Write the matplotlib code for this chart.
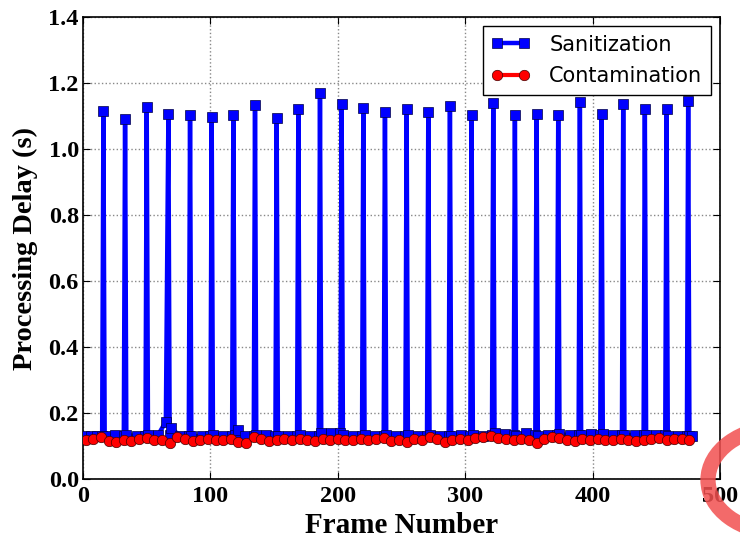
import numpy as np
import matplotlib
matplotlib.use('Agg')
import matplotlib.pyplot as plt
from matplotlib.patches import Circle

# spikes of the sanitization curve (frame, delay in s)
spike_frames = [16, 33, 50, 67, 84, 101, 118, 135, 152, 169, 186, 203, 220, 237,
                254, 271, 288, 305, 322, 339, 356, 373, 390, 407, 424, 441, 458, 475]
spike_delay = [1.114, 1.092, 1.128, 1.107, 1.104, 1.096, 1.102, 1.134, 1.095, 1.122,
               1.169, 1.137, 1.123, 1.112, 1.120, 1.113, 1.129, 1.102, 1.139, 1.104,
               1.105, 1.102, 1.141, 1.107, 1.136, 1.121, 1.122, 1.144]

# baseline of the sanitization curve between spikes
base_frames = [1, 6, 11, 15, 17, 25, 32, 34, 42, 49, 51, 59, 65, 68, 69, 76, 83, 85,
               93, 100, 102, 110, 117, 119, 122, 127, 134, 136, 144, 151, 153, 161,
               168, 170, 178, 185, 187, 195, 202, 204, 212, 219, 221, 229, 236, 238,
               246, 253, 255, 263, 270, 272, 280, 287, 289, 297, 304, 306, 314, 321,
               323, 331, 338, 340, 348, 355, 357, 365, 372, 374, 382, 389, 391, 399,
               406, 408, 416, 423, 425, 433, 440, 442, 450, 457, 459, 467, 474, 476, 478]
base_delay = [0.130, 0.131, 0.129, 0.130, 0.131, 0.132, 0.130, 0.133, 0.131, 0.130,
              0.132, 0.134, 0.174, 0.132, 0.155, 0.131, 0.130, 0.129, 0.131, 0.130,
              0.132, 0.131, 0.130, 0.133, 0.150, 0.131, 0.130, 0.132, 0.133, 0.131,
              0.130, 0.129, 0.131, 0.132, 0.130, 0.131, 0.138, 0.140, 0.139, 0.133,
              0.131, 0.130, 0.132, 0.131, 0.130, 0.133, 0.131, 0.130, 0.132, 0.131,
              0.130, 0.132, 0.131, 0.130, 0.131, 0.132, 0.130, 0.133, 0.131, 0.134,
              0.139, 0.136, 0.132, 0.131, 0.139, 0.132, 0.131, 0.133, 0.134, 0.136,
              0.133, 0.132, 0.133, 0.135, 0.134, 0.136, 0.133, 0.132, 0.134, 0.133,
              0.132, 0.134, 0.133, 0.132, 0.131, 0.130, 0.131, 0.130, 0.129]

# contamination curve
cont_frames = np.arange(2, 477, 6)
cont_delay = [0.118, 0.122, 0.128, 0.116, 0.113, 0.117, 0.115, 0.121, 0.124, 0.119,
              0.117, 0.110, 0.127, 0.120, 0.116, 0.118, 0.121, 0.117, 0.119, 0.122,
              0.113, 0.108, 0.128, 0.121, 0.116, 0.118, 0.120, 0.117, 0.121, 0.119,
              0.116, 0.120, 0.118, 0.122, 0.117, 0.119, 0.121, 0.118, 0.122, 0.125,
              0.116, 0.119, 0.113, 0.121, 0.118, 0.126, 0.121, 0.112, 0.117, 0.120,
              0.118, 0.124, 0.127, 0.130, 0.124, 0.120, 0.118, 0.121, 0.117, 0.110,
              0.122, 0.126, 0.124, 0.118, 0.115, 0.120, 0.118, 0.121, 0.119, 0.117,
              0.120, 0.118, 0.116, 0.119, 0.121, 0.123, 0.119, 0.121, 0.120, 0.118]

san = sorted(zip(spike_frames + base_frames, spike_delay + base_delay))
san_x = [p[0] for p in san]
san_y = [p[1] for p in san]

serif = {'family': 'Liberation Serif', 'weight': 'bold'}

fig = plt.figure(figsize=(7.4, 5.42), dpi=100)
ax = fig.add_axes([0.1122, 0.1162, 0.8608, 0.8524])

ax.plot(san_x, san_y, color='#0000ff', lw=3.2, marker='s', ms=7.5,
        mec='#000044', mew=0.5, label='Sanitization', zorder=3)
ax.plot(cont_frames, cont_delay, color='#ff0000', lw=3, marker='o', ms=7.5,
        mec='#440000', mew=0.5, label='Contamination', zorder=4)

ax.set_xlim(0, 500)
ax.set_ylim(0, 1.4)
ax.set_xticks(range(0, 501, 100))
ax.set_yticks(np.arange(0, 1.41, 0.2))
ax.set_yticklabels(['%.1f' % v for v in np.arange(0, 1.41, 0.2)])
ax.grid(True, linestyle=':', color='#888888', lw=1)
ax.tick_params(direction='in', top=True, right=True, length=5)
ax.tick_params(axis='x', pad=5)
ax.tick_params(axis='y', pad=3)
for lab in ax.get_xticklabels() + ax.get_yticklabels():
    lab.set_fontfamily('Liberation Serif')
    lab.set_fontweight('bold')
    lab.set_fontsize(17.5)
for sp in ax.spines.values():
    sp.set_linewidth(1.2)

ax.set_xlabel('Frame Number', fontdict=serif, fontsize=21)
ax.set_ylabel('Processing Delay (s)', fontdict=serif, fontsize=20.5)
ax.xaxis.set_label_coords(0.5, -0.071)
ax.yaxis.set_label_coords(-0.071, 0.5)

leg = ax.legend(loc='upper right', prop={'family': 'DejaVu Sans', 'size': 15},
                fancybox=False, framealpha=1, edgecolor='black', numpoints=2,
                handlelength=1.9, handletextpad=0.9, borderpad=0.4,
                labelspacing=0.55, borderaxespad=0.45)
leg.get_frame().set_linewidth(1.0)

# red ring stamp in the bottom right corner
ring = Circle((780 / 740, 1 - 480 / 542), 72 / 740, transform=fig.transFigure,
              fill=False, edgecolor='#f25050', lw=11, alpha=0.85, clip_on=False)
fig.patches.append(ring)

fig.savefig('out.png', dpi=100)
